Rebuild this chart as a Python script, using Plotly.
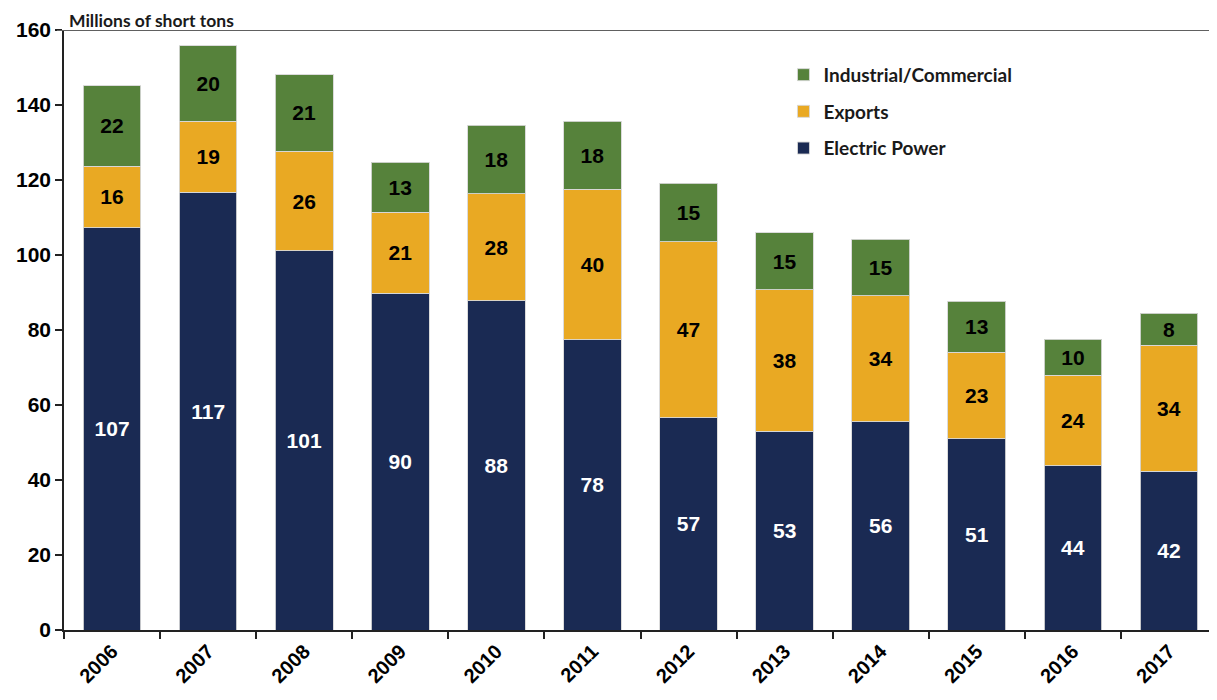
import plotly.graph_objects as go

years = ["2006", "2007", "2008", "2009", "2010", "2011", "2012", "2013", "2014", "2015", "2016", "2017"]
electric_power = [107.3, 116.8, 101.1, 89.8, 87.8, 77.4, 56.6, 53.0, 55.5, 51.0, 43.8, 42.3]
exports = [16.4, 18.9, 26.6, 21.6, 28.6, 40.2, 47.0, 37.8, 33.7, 23.1, 24.1, 33.7]
industrial = [21.5, 20.1, 20.4, 13.3, 18.2, 18.1, 15.5, 15.1, 15.0, 13.6, 9.6, 8.5]

electric_labels = ["107", "117", "101", "90", "88", "78", "57", "53", "56", "51", "44", "42"]
exports_labels = ["16", "19", "26", "21", "28", "40", "47", "38", "34", "23", "24", "34"]
industrial_labels = ["22", "20", "21", "13", "18", "18", "15", "15", "15", "13", "10", "8"]

y_ticks = [0, 20, 40, 60, 80, 100, 120, 140, 160]

NAVY = "#1a2a53"
GOLD = "#e9a923"
GREEN = "#56823b"
LABEL_FONT = "Liberation Sans, Arial, sans-serif"
TEXT_FONT = "Lato, Liberation Sans, sans-serif"

fig = go.Figure()
series = [
    ("Electric Power", electric_power, electric_labels, NAVY, "white", 3),
    ("Exports", exports, exports_labels, GOLD, "black", 2),
    ("Industrial/Commercial", industrial, industrial_labels, GREEN, "black", 1),
]
for name, vals, labels, color, tcol, rank in series:
    fig.add_trace(go.Bar(
        x=years, y=vals, name=name, legendgroup=name, legendrank=rank,
        marker=dict(color=color, line=dict(color="rgba(215,215,215,0.9)", width=1)),
        text=labels, textposition="inside", insidetextanchor="middle",
        textangle=0, constraintext="none",
        textfont=dict(family=LABEL_FONT, size=21, color=tcol, weight="bold"),
        hoverinfo="x+y+name",
    ))

# page body adds an 8px offset; the figure is sized to compensate
fig.update_layout(
    width=1209, height=692,
    barmode="stack", bargap=0.4,
    plot_bgcolor="white", paper_bgcolor="white",
    margin=dict(l=56, r=0, t=22, b=70, pad=0),
    showlegend=True,
    legend=dict(
        x=0.624, y=0.957, xanchor="left", yanchor="top",
        traceorder="grouped", tracegroupgap=9,
        font=dict(family=TEXT_FONT, size=19, color="#1a1a1a", weight="bold"),
        bgcolor="rgba(0,0,0,0)",
    ),
    xaxis=dict(
        type="category", tickson="boundaries", automargin=False,
        showline=True, linecolor="#222222", linewidth=1.5,
        ticks="outside", ticklen=7, tickcolor="#222222", tickwidth=1.5,
        tickangle=-45,
        tickfont=dict(family=LABEL_FONT, size=20, color="black", weight="bold"),
        showgrid=False, zeroline=False,
    ),
    yaxis=dict(
        range=[0, 160], tickvals=y_ticks, automargin=False,
        showline=True, linecolor="#222222", linewidth=1.5,
        ticks="outside", ticklen=7, tickcolor="#222222", tickwidth=1.5,
        tickfont=dict(family=LABEL_FONT, size=21, color="black", weight="bold"),
        showgrid=False, zeroline=False,
    ),
    annotations=[dict(
        text="Millions of short tons", xref="paper", yref="paper",
        x=0.003, y=1 + 22 / 600, xanchor="left", yanchor="top", showarrow=False,
        font=dict(family=TEXT_FONT, size=17.5, color="#1a1a1a", weight="bold"),
    )],
    shapes=[dict(
        type="line", xref="paper", yref="y", x0=-7 / 1153, x1=1, y0=160, y1=160,
        line=dict(color="#606060", width=2),
    )],
)

fig.write_html("out.html")
